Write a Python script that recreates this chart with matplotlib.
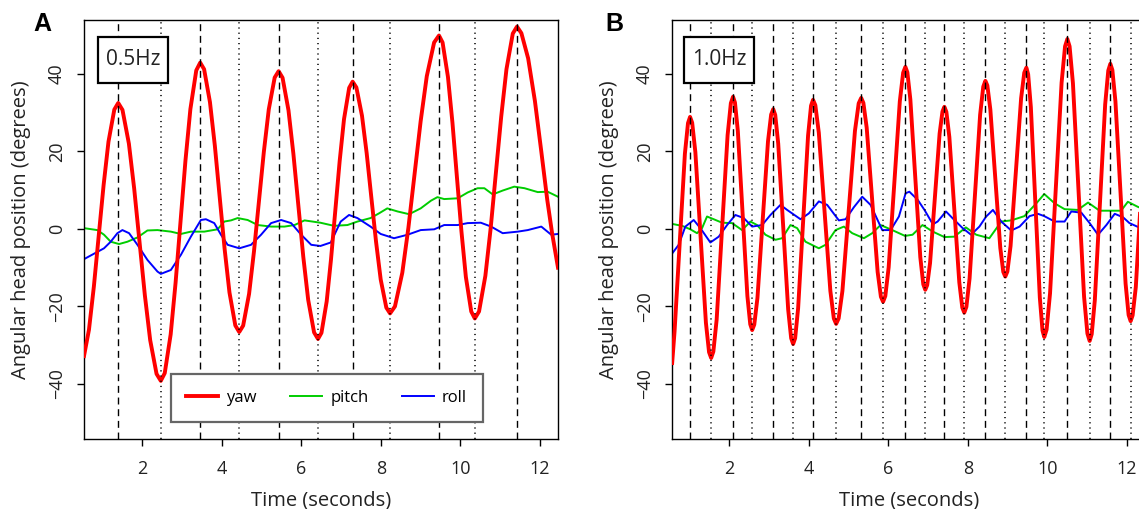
"""
Head rotation traces (yaw / pitch / roll) for 0.5 Hz and 1.0 Hz trials.
Writes out.png
"""
import matplotlib
matplotlib.use("Agg")
import matplotlib.pyplot as plt  # noqa: E402
from matplotlib.patches import Rectangle  # noqa: E402

plt.rcParams["font.family"] = ["Open Sans", "DejaVu Sans"]

# --- panel A (0.5 Hz) ---
A_YAW_T = [0.54, 0.665, 0.788, 0.91, 1.033, 1.155, 1.302, 1.40,
           1.507, 1.668, 1.801, 1.935, 2.069, 2.203, 2.363, 2.47,
           2.569, 2.718, 2.841, 2.965, 3.089, 3.213, 3.361, 3.46,
           3.558, 3.705, 3.828, 3.95, 4.073, 4.195, 4.342, 4.44,
           4.539, 4.688, 4.811, 4.935, 5.059, 5.183, 5.331, 5.43,
           5.529, 5.678, 5.801, 5.925, 6.049, 6.173, 6.321, 6.42,
           6.507, 6.638, 6.746, 6.855, 6.964, 7.073, 7.203, 7.29,
           7.384, 7.525, 7.643, 7.76, 7.878, 7.995, 8.136, 8.23,
           8.353, 8.538, 8.691, 8.845, 8.999, 9.153, 9.337, 9.46,
           9.55, 9.685, 9.798, 9.91, 10.023, 10.135, 10.27, 10.36,
           10.466, 10.625, 10.758, 10.89, 11.023, 11.155, 11.314, 11.42,
           11.53, 11.70, 11.87, 12.03, 12.18, 12.30, 12.45]
A_YAW = [-32.8, -26.0, -14.85, -1.75, 11.35, 22.5, 30.8, 32.5,
         30.7, 22.0, 10.4, -3.35, -17.1, -28.7, -37.4, -39.2,
         -37.2, -27.2, -13.9, 1.85, 17.6, 30.9, 40.9, 42.9,
         41.2, 32.7, 21.45, 8.15, -5.15, -16.4, -24.9, -26.6,
         -24.95, -16.75, -5.8, 7.05, 19.9, 30.85, 39.05, 40.7,
         39.0, 30.6, 19.4, 6.15, -7.1, -18.3, -26.7, -28.4,
         -26.8, -18.7, -7.9, 4.8, 17.5, 28.3, 36.4, 38.0,
         36.5, 29.2, 19.5, 8.1, -3.3, -13.05, -20.3, -21.8,
         -20.0, -11.3, 0.3, 14.05, 27.8, 39.4, 48.1, 49.9,
         48.1, 39.2, 27.4, 13.4, -0.55, -12.4, -21.3, -23.1,
         -21.3, -12.1, 0.15, 14.55, 28.95, 41.2, 50.4, 52.2,
         50.5, 44.0, 33.0, 20.0, 7.5, -1.0, -10.0]

A_PITCH_T = [0.54, 0.875, 1.043, 1.211, 1.421, 1.631, 1.883, 2.134, 2.386, 2.722, 2.974,
             3.225, 3.561, 3.897, 4.065, 4.233, 4.401, 4.653, 4.905, 5.241, 5.577, 5.829,
             6.081, 6.48, 6.82, 7.16, 7.41, 7.74, 7.95, 8.16, 8.42, 8.71, 9.00, 9.26, 9.42,
             9.59, 9.93, 10.18, 10.43, 10.60, 10.81, 11.06, 11.35, 11.61, 11.94, 12.19, 12.45]
A_PITCH = [0.2, -0.3, -1.5, -3.3, -3.9, -3.3, -2.2, -0.4, -0.3, -0.7, -1.3,
           -0.7, -0.7, -0.1, 1.9, 2.2, 2.8, 2.3, 1.0, 0.6, 0.6, 1.0,
           2.2, 1.6, 0.8, 1.0, 1.9, 2.8, 4.0, 5.3, 4.5, 3.8, 5.3, 7.3, 8.2,
           7.7, 7.9, 9.4, 10.5, 10.5, 8.9, 9.9, 10.9, 10.5, 9.5, 9.6, 8.3]

A_ROLL_T = [0.54, 0.791, 1.043, 1.211, 1.379, 1.505, 1.673, 1.883, 2.134, 2.386, 2.47,
            2.722, 2.974, 3.225, 3.477, 3.603, 3.813, 3.981, 4.149, 4.443, 4.737, 4.989,
            5.241, 5.493, 5.745, 5.997, 6.249, 6.48, 6.74, 6.99, 7.20, 7.41, 7.74, 7.995,
            8.33, 8.67, 9.00, 9.34, 9.59, 9.93, 10.18, 10.51, 10.77, 11.06, 11.44, 11.69,
            12.03, 12.28, 12.45]
A_ROLL = [-7.8, -6.4, -5.0, -3.3, -1.1, -0.3, -1.1, -4.1, -8.0, -11.0, -11.6,
          -10.6, -6.7, -2.0, 2.3, 2.5, 1.5, -1.5, -4.1, -5.0, -4.1, -1.5,
          1.5, 2.3, 1.5, -1.5, -4.1, -4.4, -3.5, 1.9, 3.6, 2.8, 0.6, -1.3,
          -2.4, -1.5, -0.3, -0.1, 1.0, 1.0, 1.5, 1.6, 0.6, -1.1, -0.7, -0.3,
          0.6, -1.5, -1.3]

A_PEAKS = [1.40, 3.46, 5.43, 7.29, 9.46, 11.42]      # dashed
A_TROUGHS = [2.47, 4.44, 6.42, 8.23, 10.36]          # dotted

# --- panel B (1.0 Hz) ---
B_YAW_T = [0.57, 0.63, 0.76, 0.89, 0.968, 1.02, 1.073, 1.153, 1.285, 1.418, 1.497, 1.55,
           1.605, 1.688, 1.825, 1.963, 2.045, 2.10, 2.148, 2.22, 2.34, 2.46, 2.532, 2.58,
           2.633, 2.713, 2.845, 2.978, 3.057, 3.11, 3.16, 3.235, 3.36, 3.485, 3.56, 3.61,
           3.66, 3.735, 3.86, 3.985, 4.06, 4.11, 4.168, 4.255, 4.40, 4.545, 4.632, 4.69,
           4.753, 4.848, 5.005, 5.163, 5.257, 5.32, 5.375, 5.458, 5.595, 5.733, 5.815, 5.87,
           5.926, 6.01, 6.15, 6.29, 6.374, 6.43, 6.48, 6.555, 6.68, 6.805, 6.88, 6.93,
           6.978, 7.05, 7.17, 7.29, 7.362, 7.41, 7.46, 7.535, 7.66, 7.785, 7.86, 7.91,
           7.963, 8.043, 8.175, 8.308, 8.387, 8.44, 8.49, 8.565, 8.69, 8.815, 8.89, 8.94,
           8.993, 9.073, 9.205, 9.338, 9.417, 9.47, 9.515, 9.583, 9.695, 9.808, 9.875, 9.92,
           9.978, 10.065, 10.21, 10.355, 10.442, 10.50, 10.556, 10.64, 10.78, 10.92, 11.004,
           11.06, 11.112, 11.19, 11.32, 11.45, 11.528, 11.58, 11.631, 11.708, 11.835, 11.963,
           12.039, 12.09, 12.14, 12.22, 12.31, 12.40, 12.45]
B_YAW = [-34.6, -26.5, -3.55, 19.4, 27.3, 28.9, 27.4, 19.8, -2.2, -24.2, -31.8, -33.3,
         -31.65, -23.4, 0.4, 24.2, 32.45, 34.1, 32.6, 25.3, 4.0, -17.3, -24.6, -26.1,
         -24.7, -17.8, 2.4, 22.6, 29.5, 30.9, 29.4, 22.0, 0.6, -20.8, -28.2, -29.7,
         -28.2, -20.5, 1.8, 24.1, 31.8, 33.3, 31.9, 24.8, 4.4, -16.0, -23.1, -24.5,
         -23.1, -16.0, 4.65, 25.3, 32.4, 33.8, 32.5, 26.1, 7.5, -11.1, -17.5, -18.8,
         -17.3, -9.9, 11.5, 32.9, 40.3, 41.8, 40.4, 33.4, 13.05, -7.3, -14.3, -15.7,
         -14.5, -8.8, 7.9, 24.6, 30.3, 31.5, 30.2, 23.7, 4.95, -13.8, -20.3, -21.6,
         -20.1, -12.8, 8.3, 29.45, 36.7, 38.2, 37.0, 30.8, 12.95, -4.9, -11.1, -12.3,
         -11.0, -4.4, 14.65, 33.7, 40.3, 41.6, 39.9, 31.4, 6.85, -17.7, -26.2, -27.9,
         -26.0, -16.6, 10.55, 37.7, 47.1, 49.0, 47.1, 37.6, 10.05, -17.5, -27.0,
         -28.9, -27.15, -18.4, 6.85, 32.1, 40.85, 42.6, 41.0, 32.9, 9.4, -14.1,
         -22.2, -23.8, -22.3, -15.0, 1.0, 18.0, 26.0]

B_PITCH_T = [0.566, 0.818, 1.027, 1.195, 1.321, 1.446, 1.614, 1.824, 2.075, 2.327, 2.537,
             2.704, 2.914, 3.166, 3.333, 3.543, 3.711, 3.920, 4.256, 4.423, 4.675, 4.885,
             5.094, 5.388, 5.597, 5.807, 6.100, 6.42, 6.61, 6.86, 7.12, 7.41, 7.66, 7.95,
             8.21, 8.54, 8.84, 9.09, 9.42, 9.72, 9.92, 10.18, 10.43, 10.76, 11.02, 11.31,
             11.60, 11.85, 12.02, 12.27, 12.45]
B_PITCH = [1.3, 0.8, -0.1, -1.1, 0.2, 3.2, 2.5, 1.6, 1.5, -0.3, 1.9,
           1.0, -1.5, -2.8, -2.4, 1.0, 0.2, -3.3, -5.0, -4.1, -0.3, 0.6,
           -1.1, -2.4, -1.1, 1.0, -0.3, -1.8, -1.5, 1.0, -0.7, -2.1, -2.0, 0.4,
           -1.5, -2.4, 1.9, 2.2, 3.3, 6.6, 9.0, 6.6, 5.1, 4.9, 6.8, 4.7,
           4.7, 4.7, 7.0, 5.7, 5.0]

B_ROLL_T = [0.566, 0.734, 0.901, 1.111, 1.279, 1.530, 1.740, 1.950, 2.159, 2.369, 2.579,
            2.830, 3.040, 3.291, 3.459, 3.795, 4.004, 4.256, 4.465, 4.759, 4.927, 5.136,
            5.346, 5.555, 5.849, 6.059, 6.268, 6.436, 6.53, 6.74, 6.91, 7.12, 7.24, 7.45,
            7.66, 7.87, 8.08, 8.29, 8.46, 8.63, 8.84, 9.09, 9.30, 9.55, 9.76, 9.92, 10.18,
            10.43, 10.60, 10.85, 11.06, 11.27, 11.48, 11.69, 11.90, 12.06, 12.32, 12.45]
B_ROLL = [-6.4, -4.1, 0.6, 2.3, 0.2, -3.5, -2.0, 1.0, 3.6, 2.8, 0.6,
          1.0, 3.6, 6.2, 4.9, 2.5, 4.0, 7.1, 6.2, 2.2, 2.5, 5.6,
          8.3, 6.2, -0.3, -0.3, 3.2, 9.2, 9.6, 7.5, 4.9, 1.2, 1.9, 4.5,
          2.3, 0.2, -1.5, 0.6, 3.2, 4.9, 1.9, -0.4, 0.6, 3.3, 3.9, 3.3, 1.9,
          1.9, 4.5, 4.2, 1.5, -1.5, 1.0, 3.9, 3.0, 1.5, 0.3, 0.0]

B_PEAKS = [1.02, 2.10, 3.11, 4.11, 5.32, 6.43, 7.41, 8.44, 9.47, 10.50, 11.58]
B_TROUGHS = [1.55, 2.58, 3.61, 4.69, 5.87, 6.93, 7.91, 8.94, 9.92, 11.06, 12.09]

X_TICKS = [2, 4, 6, 8, 10, 12]
Y_TICKS = [-40, -20, 0, 20, 40]

YAW_C, PITCH_C, ROLL_C = "#ff0000", "#00cd00", "#0000ff"
TXT_C = "#222222"


def draw_panel(fig, rect, xlim, yaw, pitch, roll, peaks, troughs, freq, box_x0):
    ax = fig.add_axes(rect)
    ax.plot(*yaw, color=YAW_C, lw=2.8, label="yaw", zorder=3, solid_joinstyle="round")
    ax.plot(*pitch, color=PITCH_C, lw=1.4, label="pitch", zorder=2, solid_joinstyle="round")
    ax.plot(*roll, color=ROLL_C, lw=1.4, label="roll", zorder=2, solid_joinstyle="round")

    # peak (dashed) / trough (dotted) markers
    for t in peaks:
        ax.axvline(t, color="black", lw=1.0, ls=(0, (5, 3.4)), zorder=4)
    for t in troughs:
        ax.axvline(t, color="black", lw=1.1, ls=(0, (0.8, 2.6)), zorder=4)

    ax.set_xlim(*xlim)
    ax.set_ylim(-54.2, 53.9)
    ax.set_xticks(X_TICKS)
    ax.set_yticks(Y_TICKS)
    ax.tick_params(direction="out", length=5, width=1.0, labelsize=13,
                   colors="black", labelcolor=TXT_C)
    ax.tick_params(axis="x", pad=10)
    ax.tick_params(axis="y", labelrotation=90, pad=8)
    for lab in ax.get_yticklabels():
        lab.set_va("center")
    for sp in ax.spines.values():
        sp.set_linewidth(1.0)

    ax.set_xlabel("Time (seconds)", fontsize=14.5, color=TXT_C, labelpad=9)
    ax.set_ylabel("Angular head position (degrees)", fontsize=14.5, color=TXT_C, labelpad=12)

    # frequency tag
    ax.add_patch(Rectangle((box_x0, 0.850), 0.148, 0.110, transform=ax.transAxes,
                           facecolor="white", edgecolor="black", lw=1.6, zorder=6))
    ax.text(box_x0 + 0.074, 0.905, freq, transform=ax.transAxes, ha="center",
            va="center", fontsize=15, color=TXT_C, zorder=7)
    return ax


def main() -> None:
    fig = plt.figure(figsize=(11.39, 5.09), dpi=100)
    w, h = 474 / 1139, 419 / 509
    bottom = 70 / 509

    ax_a = draw_panel(fig, [84 / 1139, bottom, w, h], (0.54, 12.45),
                      (A_YAW_T, A_YAW), (A_PITCH_T, A_PITCH), (A_ROLL_T, A_ROLL),
                      A_PEAKS, A_TROUGHS, "0.5Hz", 0.0295)
    draw_panel(fig, [672 / 1139, bottom, w, h], (0.566, 12.476),
               (B_YAW_T, B_YAW), (B_PITCH_T, B_PITCH), (B_ROLL_T, B_ROLL),
               B_PEAKS, B_TROUGHS, "1.0Hz", 0.0253)

    leg = ax_a.legend(loc="lower center", bbox_to_anchor=(0.512, 0.041), ncol=3,
                      fontsize=12, frameon=True, fancybox=False, framealpha=1,
                      edgecolor="#666666", borderpad=0.95, borderaxespad=0,
                      handlelength=1.9, columnspacing=2.0, handletextpad=0.5)
    leg.get_frame().set_linewidth(1.6)
    leg.set_zorder(8)

    fig.text(42 / 1139, 1 - 24 / 509, "A", fontsize=18, fontweight="bold",
             family=["Liberation Sans", "DejaVu Sans"], ha="center", va="center")
    fig.text(614 / 1139, 1 - 24 / 509, "B", fontsize=18, fontweight="bold",
             family=["Liberation Sans", "DejaVu Sans"], ha="center", va="center")

    fig.savefig("out.png", dpi=100)


if __name__ == "__main__":
    main()
